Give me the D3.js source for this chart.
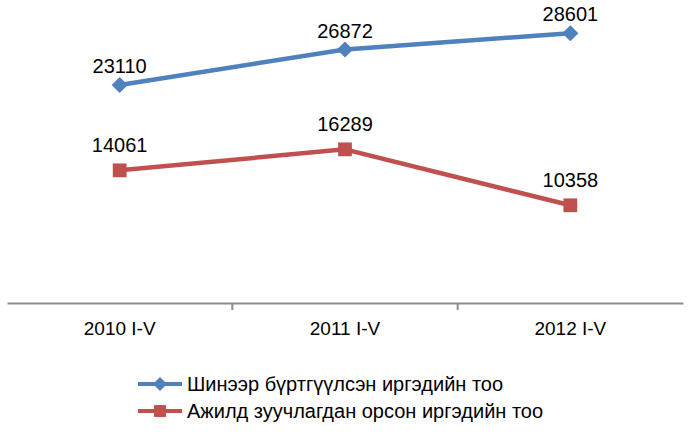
<!DOCTYPE html>
<html>
<head>
<meta charset="utf-8">
<script src="https://cdn.jsdelivr.net/npm/d3@7"></script>
<style>
  body { margin: 0; background: #fff; }
  svg { font-family: "Liberation Sans", Arial, sans-serif; }
</style>
</head>
<body>
<div id="chart"></div>
<script>
// data
const categories = ["2010 I-V", "2011 I-V", "2012 I-V"];
const registered = [23110, 26872, 28601];
const employed = [14061, 16289, 10358];
const seriesNames = ["Шинээр бүртгүүлсэн иргэдийн тоо", "Ажилд зуучлагдан орсон иргэдийн тоо"];

const W = 688, H = 439;

const svg = d3.select("#chart").append("svg")
    .attr("width", W)
    .attr("height", H);

const x = d3.scaleBand()
    .domain(categories)
    .range([7, 683]);

const y = d3.scaleLinear()
    .domain([0, 30000])
    .range([303, 20]);

// x axis
const xAxis = svg.append("g")
    .attr("transform", "translate(0," + y(0) + ")")
    .call(d3.axisBottom(x).tickSize(0).tickSizeOuter(0).tickPadding(19));
xAxis.select(".domain").attr("stroke", "#8c8c8c").attr("stroke-width", 2);
xAxis.selectAll("text")
    .style("font-size", "19px")
    .attr("fill", "#000")
    .attr("font-family", "Liberation Sans, Arial, sans-serif");

// tick marks between categories
const bounds = categories.slice(0, -1).map(function(c) { return x(c) + x.bandwidth(); });
xAxis.selectAll(".sep")
    .data(bounds)
    .join("line")
    .attr("x1", function(d) { return d; })
    .attr("x2", function(d) { return d; })
    .attr("y1", 0)
    .attr("y2", 7)
    .attr("stroke", "#8c8c8c")
    .attr("stroke-width", 2);

const cx = function(d, i) { return x(categories[i]) + x.bandwidth() / 2; };

const series = [
    { name: seriesNames[0], values: registered, color: "#4F81BD", marker: d3.symbolSquare, rot: 45, size: 130, labelDy: -12 },
    { name: seriesNames[1], values: employed, color: "#C0504D", marker: d3.symbolSquare, rot: 0, size: 190, labelDy: -18 }
];

const line = d3.line()
    .x(cx)
    .y(function(d) { return y(d); });

series.forEach(function(s) {
    svg.append("path")
        .datum(s.values)
        .attr("fill", "none")
        .attr("stroke", s.color)
        .attr("stroke-width", 4.5)
        .attr("stroke-linejoin", "round")
        .attr("d", line);

    svg.selectAll(null)
        .data(s.values)
        .join("path")
        .attr("transform", function(d, i) { return "translate(" + cx(d, i) + "," + y(d) + ") rotate(" + s.rot + ")"; })
        .attr("d", d3.symbol().type(s.marker).size(s.size))
        .attr("fill", s.color);

    svg.selectAll(null)
        .data(s.values)
        .join("text")
        .attr("x", cx)
        .attr("y", function(d) { return y(d) + s.labelDy; })
        .attr("text-anchor", "middle")
        .attr("font-size", 20)
        .attr("fill", "#000")
        .text(function(d) { return d; });
});

// legend
const legend = svg.append("g");
series.forEach(function(s, i) {
    const ly = 384 + i * 27;
    legend.append("line")
        .attr("x1", 138).attr("x2", 182)
        .attr("y1", ly).attr("y2", ly)
        .attr("stroke", s.color)
        .attr("stroke-width", 4);
    legend.append("path")
        .attr("transform", "translate(160," + ly + ") rotate(" + s.rot + ")")
        .attr("d", d3.symbol().type(s.marker).size(s.size * 0.75))
        .attr("fill", s.color);
    legend.append("text")
        .attr("x", 187)
        .attr("y", ly + 7)
        .attr("font-size", 20)
        .attr("fill", "#000")
        .text(s.name);
});
</script>
</body>
</html>
